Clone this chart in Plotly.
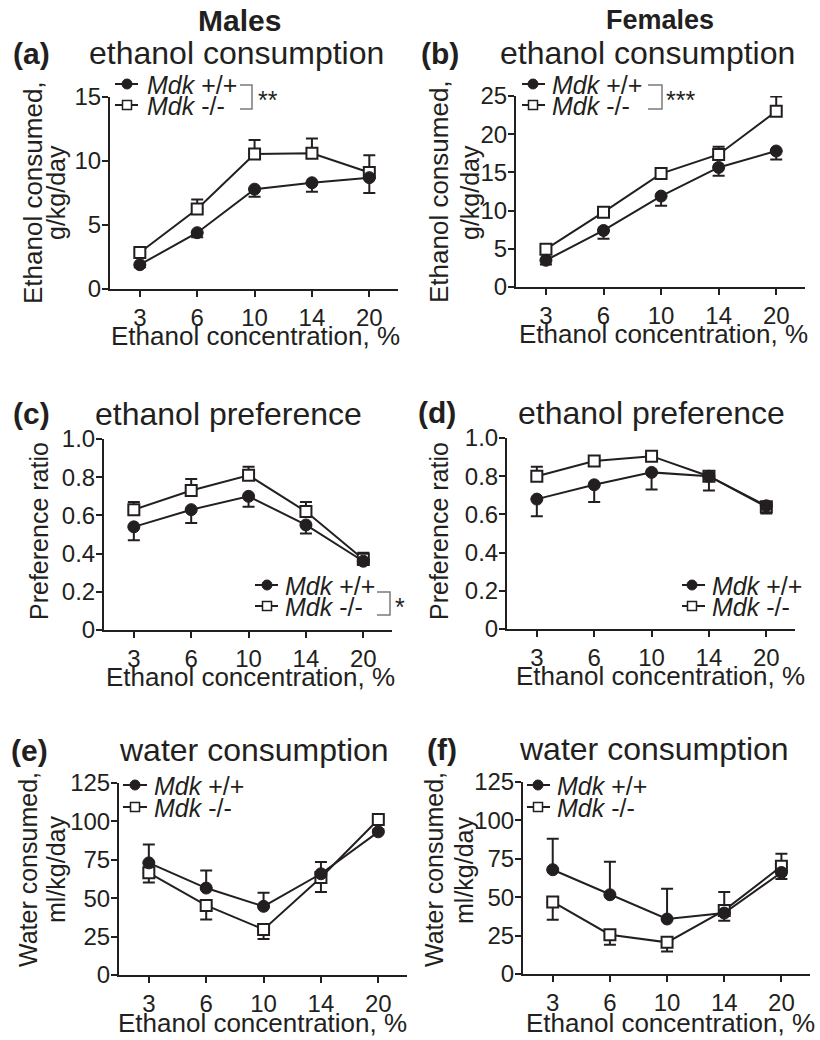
import plotly.graph_objects as go

W, H = 820, 1040

# ---------------- data ----------------
conc = ["3", "6", "10", "14", "20"]

# (a) Males, ethanol consumed (g/kg/day)
a_wt = [1.9, 4.4, 7.8, 8.3, 8.7]
a_wt_up = [0, 0, 0, 0, 0]
a_wt_dn = [0.2, 0.35, 0.6, 0.7, 1.2]
a_ko = [2.85, 6.25, 10.55, 10.6, 9.1]
a_ko_up = [0.2, 0.75, 1.1, 1.15, 1.35]
a_ko_dn = [0, 0, 0, 0, 0]

# (b) Females, ethanol consumed (g/kg/day)
b_wt = [3.5, 7.4, 11.9, 15.65, 17.8]
b_wt_up = [0, 0, 0, 0, 0]
b_wt_dn = [0.55, 1.1, 1.25, 1.1, 1.1]
b_ko = [4.95, 9.8, 14.85, 17.35, 23.0]
b_ko_up = [0.2, 0.3, 0.3, 1.0, 1.95]
b_ko_dn = [0, 0, 0, 0, 0]

# (c) Males, preference ratio
c_wt = [0.54, 0.63, 0.70, 0.55, 0.36]
c_wt_up = [0, 0, 0, 0, 0]
c_wt_dn = [0.07, 0.07, 0.055, 0.045, 0.02]
c_ko = [0.63, 0.73, 0.81, 0.62, 0.37]
c_ko_up = [0.04, 0.06, 0.045, 0.05, 0.035]
c_ko_dn = [0, 0, 0, 0, 0]

# (d) Females, preference ratio
d_wt = [0.68, 0.755, 0.82, 0.80, 0.645]
d_wt_up = [0, 0, 0, 0, 0]
d_wt_dn = [0.09, 0.09, 0.09, 0.075, 0.04]
d_ko = [0.80, 0.88, 0.905, 0.80, 0.64]
d_ko_up = [0.05, 0.015, 0.01, 0.02, 0.02]
d_ko_dn = [0, 0, 0, 0, 0]

# (e) Males, water consumed (ml/kg/day)
e_wt = [73.0, 56.6, 44.7, 65.9, 93.2]
e_wt_up = [12.0, 11.5, 8.8, 7.6, 1.5]
e_wt_dn = [0, 0, 0, 0, 0]
e_ko = [66.5, 45.3, 29.7, 63.5, 101.2]
e_ko_up = [0, 0, 0, 0, 2.0]
e_ko_dn = [6.2, 9.1, 6.3, 9.5, 0]

# (f) Females, water consumed (ml/kg/day)
f_wt = [67.9, 51.6, 35.8, 39.7, 66.1]
f_wt_up = [20.2, 21.5, 19.7, 0, 0]
f_wt_dn = [0, 0, 0, 5.0, 4.3]
f_ko = [46.9, 25.6, 20.6, 41.4, 70.1]
f_ko_up = [0, 0, 0, 12.0, 8.2]
f_ko_dn = [11.5, 6.5, 5.9, 0, 0]

wt_name = "<i>Mdk</i> +/+"
ko_name = "<i>Mdk</i> -/-"

# ---------------- styling helpers ----------------
INK = "#231f20"
GREY = "#7a7a7a"
FONT = "Liberation Sans, Arial, Helvetica, sans-serif"


def X(p):
    return p / W


def Y(p):
    return 1 - p / H


panels = [
    dict(wt=a_wt, wtu=a_wt_up, wtd=a_wt_dn, ko=a_ko, kou=a_ko_up, kod=a_ko_dn,
         box=(110, 398, 97, 289), yr=[0, 15], tv=[0, 5, 10, 15], tt=["0", "5", "10", "15"]),
    dict(wt=b_wt, wtu=b_wt_up, wtd=b_wt_dn, ko=b_ko, kou=b_ko_up, kod=b_ko_dn,
         box=(516, 805, 96, 287), yr=[0, 25], tv=[0, 5, 10, 15, 20, 25],
         tt=["0", "5", "10", "15", "20", "25"]),
    dict(wt=c_wt, wtu=c_wt_up, wtd=c_wt_dn, ko=c_ko, kou=c_ko_up, kod=c_ko_dn,
         box=(104, 392, 439, 630), yr=[0, 1], tv=[0, 0.2, 0.4, 0.6, 0.8, 1.0],
         tt=["0", "0.2", "0.4", "0.6", "0.8", "1.0"]),
    dict(wt=d_wt, wtu=d_wt_up, wtd=d_wt_dn, ko=d_ko, kou=d_ko_up, kod=d_ko_dn,
         box=(507, 795, 438, 629), yr=[0, 1], tv=[0, 0.2, 0.4, 0.6, 0.8, 1.0],
         tt=["0", "0.2", "0.4", "0.6", "0.8", "1.0"]),
    dict(wt=e_wt, wtu=e_wt_up, wtd=e_wt_dn, ko=e_ko, kou=e_ko_up, kod=e_ko_dn,
         box=(119, 407, 783, 975), yr=[0, 125], tv=[0, 25, 50, 75, 100, 125],
         tt=["0", "25", "50", "75", "100", "125"]),
    dict(wt=f_wt, wtu=f_wt_up, wtd=f_wt_dn, ko=f_ko, kou=f_ko_up, kod=f_ko_dn,
         box=(523, 810, 782, 974), yr=[0, 125], tv=[0, 25, 50, 75, 100, 125],
         tt=["0", "25", "50", "75", "100", "125"]),
]

fig = go.Figure()
layout = dict(
    template="none",
    width=W, height=H, margin=dict(l=0, r=0, t=0, b=0, autoexpand=False),
    paper_bgcolor="white", plot_bgcolor="white", showlegend=False,
    font=dict(family=FONT, color=INK),
)

for i, p in enumerate(panels):
    n = "" if i == 0 else str(i + 1)
    xa, ya = "x" + n, "y" + n
    x0, x1, y0, y1 = p["box"]
    # knockout first so the filled circles sit on top
    fig.add_trace(go.Scatter(
        x=conc, y=p["ko"], name=ko_name, mode="lines+markers", xaxis=xa, yaxis=ya,
        line=dict(color=INK, width=2),
        marker=dict(symbol="square", size=11, color="white", line=dict(color=INK, width=2)),
        error_y=dict(type="data", symmetric=False, array=p["kou"], arrayminus=p["kod"],
                     color=INK, thickness=2, width=6),
        cliponaxis=False, hoverinfo="skip",
    ))
    fig.add_trace(go.Scatter(
        x=conc, y=p["wt"], name=wt_name, mode="lines+markers", xaxis=xa, yaxis=ya,
        line=dict(color=INK, width=2),
        marker=dict(symbol="circle", size=12, color=INK, line=dict(color=INK, width=1)),
        error_y=dict(type="data", symmetric=False, array=p["wtu"], arrayminus=p["wtd"],
                     color=INK, thickness=2, width=6),
        cliponaxis=False, hoverinfo="skip",
    ))
    common = dict(showline=True, linecolor=INK, linewidth=2, ticks="outside", ticklen=6,
                  tickwidth=2, tickcolor=INK, showgrid=False, zeroline=False,
                  automargin=False, mirror=False,
                  tickfont=dict(family=FONT, size=24, color=INK), fixedrange=True)
    layout["xaxis" + n] = dict(common, domain=[X(x0), X(x1)], anchor=ya, type="category",
                               range=[-0.52, 4.5])
    layout["yaxis" + n] = dict(common, domain=[Y(y1), Y(y0)], anchor=xa, range=p["yr"],
                               tickvals=p["tv"], ticktext=p["tt"], ticklabelstandoff=-4)

annotations = []
shapes = []


def txt(text, x, y, size, xanchor="center", bold=False, angle=0, color=INK):
    annotations.append(dict(
        text=("<b>%s</b>" % text) if bold else text, x=X(x), y=Y(y), xref="paper", yref="paper",
        xanchor=xanchor, yanchor="middle", showarrow=False, textangle=angle,
        font=dict(family=FONT, size=size, color=color)))


# column headings
txt("Males", 240, 20, 30, bold=True)
txt("Females", 660, 20, 27, bold=True)

# panel letters and titles
for letter, lx, title, tx, ty in [
    ("(a)", 31, "ethanol consumption", 237, 53),
    ("(b)", 440, "ethanol consumption", 647, 53),
    ("(c)", 31, "ethanol preference", 228, 414),
    ("(d)", 437, "ethanol preference", 651, 413),
    ("(e)", 30, "water consumption", 254, 750),
    ("(f)", 442, "water consumption", 654, 749),
]:
    txt(letter, lx, ty, 30, bold=True)
    txt(title, tx, ty, 32)

# x-axis titles
for cx, cy in [(255, 336), (663, 334), (250, 677), (660, 676), (262, 1023), (670, 1023)]:
    txt("Ethanol concentration, %", cx, cy, 26)

# y-axis titles (rotated): (text, x centre, font size)
for lines, cy in [
    ([("Ethanol consumed,", 33, 26), ("g/kg/day", 56, 25)], 193),
    ([("Ethanol consumed,", 439, 26), ("g/kg/day", 470, 25)], 192),
    ([("Preference ratio", 39, 25)], 531),
    ([("Preference ratio", 439, 25)], 531),
    ([("Water consumed,", 28, 25), ("ml/kg/day", 56, 25)], 870),
    ([("Water consumed,", 434, 25), ("ml/kg/day", 464, 25)], 870),
]:
    for t, cx, fs in lines:
        txt(t, cx, cy, fs, angle=-90)

# legends: (key line x0, x1, marker cx, row1 y, row2 y, text x)
legends = [
    (115, 138, 127, 84, 105, 145),
    (522, 545, 533, 84, 105, 550),
    (255, 278, 267, 585, 606, 283),
    (682, 705, 692, 585, 606, 710),
    (123, 147, 135, 785, 807, 152),
    (527, 550, 538, 785, 807, 555),
]
for lx0, lx1, cx, r1, r2, tx in legends:
    for r in (r1, r2):
        shapes.append(dict(type="line", xref="paper", yref="paper", x0=X(lx0), x1=X(lx1),
                           y0=Y(r), y1=Y(r), line=dict(color=INK, width=2)))
    shapes.append(dict(type="circle", xref="paper", yref="paper", x0=X(cx - 5), x1=X(cx + 5),
                       y0=Y(r1 + 5), y1=Y(r1 - 5), fillcolor=INK, line=dict(color=INK, width=1)))
    shapes.append(dict(type="rect", xref="paper", yref="paper", x0=X(cx - 4.5), x1=X(cx + 4.5),
                       y0=Y(r2 + 4.5), y1=Y(r2 - 4.5), fillcolor="white",
                       line=dict(color=INK, width=1.5)))
    txt(wt_name, tx, r1 + 1, 25, xanchor="left")
    txt(ko_name, tx, r2 + 1, 25, xanchor="left")

# significance brackets: (x left, x right, y top, y bottom, stars, star x, star y)
for bl, br, bt, bb, stars, sx, sy in [
    (240, 252, 85, 109, "**", 256, 100),
    (648, 662, 85, 109, "***", 664, 100),
    (377, 390, 592, 615, "*", 393, 607),
]:
    shapes.append(dict(type="path", xref="paper", yref="paper",
                       path="M %f,%f L %f,%f L %f,%f L %f,%f" % (
                           X(bl), Y(bt), X(br), Y(bt), X(br), Y(bb), X(bl), Y(bb)),
                       line=dict(color=GREY, width=1.5)))
    txt(stars, sx, sy, 25, xanchor="left")

layout["annotations"] = annotations
layout["shapes"] = shapes
fig.update_layout(**layout)

fig.write_html("out.html", config={"displayModeBar": False},
               post_script="document.body.style.margin='0';")
